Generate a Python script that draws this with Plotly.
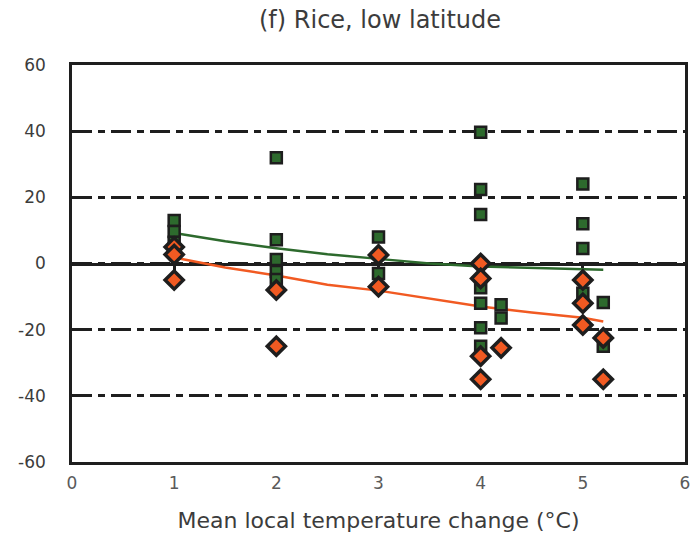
import plotly.graph_objects as go

# Data
green_x = [1, 1, 1, 2, 2, 2, 2, 2, 3, 3, 4, 4, 4, 4, 4, 4, 4, 4.2, 4.2, 5, 5, 5, 5, 5.2, 5.2]
green_y = [13, 9.7, 6.4, 32, 7.2, 1.2, -2.4, -4.8, 8, -3, 39.7, 22.4, 14.8, -7.3, -12, -19.4, -25,
           -12.5, -16.5, 24, 12, 4.5, -9, -11.8, -25]

orange_x = [1, 1, 1, 2, 2, 3, 3, 4, 4, 4, 4, 4.2, 5, 5, 5, 5.2, 5.2]
orange_y = [5, 2.7, -5, -8, -25, 2.6, -7, 0, -4.5, -28, -35, -25.5, -5, -12, -18.6, -22.5, -35]

fit_x = [1, 1.5, 2, 2.5, 3, 3.5, 4, 4.5, 5, 5.2]
green_fit = [9.2, 6.7, 4.6, 2.8, 1.4, 0.0, -0.9, -1.4, -1.8, -1.9]
orange_fit = [1.8, -1.2, -3.6, -6.4, -8.2, -10.5, -13.0, -14.8, -16.4, -17.5]

x_ticks = [0, 1, 2, 3, 4, 5, 6]
y_ticks = [-60, -40, -20, 0, 20, 40, 60]

GREEN = "#2d6a2d"
ORANGE = "#f15a22"
TEXT = "#3c3c3c"
BLACK = "#1e1e1e"

fig = go.Figure()

fig.add_trace(go.Scatter(x=fit_x, y=green_fit, mode="lines",
                         line=dict(color=GREEN, width=2.5), showlegend=False))
fig.add_trace(go.Scatter(x=fit_x, y=orange_fit, mode="lines",
                         line=dict(color=ORANGE, width=2.5), showlegend=False))
fig.add_trace(go.Scatter(x=green_x, y=green_y, mode="markers",
                         marker=dict(symbol="square", size=11, color=GREEN,
                                     line=dict(color=BLACK, width=2.5)),
                         showlegend=False))
fig.add_trace(go.Scatter(x=orange_x, y=orange_y, mode="markers",
                         marker=dict(symbol="diamond", size=14, color=ORANGE,
                                     line=dict(color=BLACK, width=3.5)),
                         showlegend=False))
# invisible trace to activate the zero-line axis with ticks
fig.add_trace(go.Scatter(x=[0, 6], y=[0, 0], xaxis="x2", mode="lines",
                         line=dict(width=0), hoverinfo="skip", showlegend=False))

fig.update_layout(
    width=696, height=538,
    margin=dict(l=72, r=11, t=65, b=76, autoexpand=False),
    paper_bgcolor="white", plot_bgcolor="white",
    font=dict(family="DejaVu Sans", color=TEXT),
    title=dict(text="(f) Rice, low latitude", x=0.546, xanchor="center",
               y=0.963, yanchor="middle",
               font=dict(family="DejaVu Sans", size=24, color=TEXT)),
    xaxis=dict(range=[0, 6], tickvals=x_ticks, ticktext=[str(v) for v in x_ticks],
               showgrid=False, zeroline=False, automargin=False,
               showline=True, mirror=True, linecolor=BLACK, linewidth=2.5,
               ticks="", ticklabelstandoff=4,
               tickfont=dict(family="DejaVu Sans", size=17, color="#5a5a5a"),
               title=dict(text="Mean local temperature change (°C)", standoff=21,
                          font=dict(family="DejaVu Sans", size=22, color=TEXT))),
    xaxis2=dict(range=[0, 6], overlaying="x", anchor="free", position=0.5,
                side="bottom", tickvals=[1, 2, 3, 4, 5], showticklabels=False,
                ticks="outside", ticklen=9, tickwidth=2.5, tickcolor=BLACK,
                showline=True, linecolor=BLACK, linewidth=2.5, automargin=False,
                showgrid=False, zeroline=False, layer="below traces"),
    yaxis=dict(range=[-60, 60], tickvals=y_ticks, ticktext=[str(v) for v in y_ticks],
               showgrid=True, gridcolor=BLACK, gridwidth=2.5,
               griddash="20px,6px,7px,6px", zeroline=False, automargin=False,
               showline=True, mirror=True, linecolor=BLACK, linewidth=2.5,
               ticks="", ticklabelstandoff=20, layer="below traces",
               tickfont=dict(family="DejaVu Sans", size=17, color=TEXT)),
)

fig.write_html("out.html")
